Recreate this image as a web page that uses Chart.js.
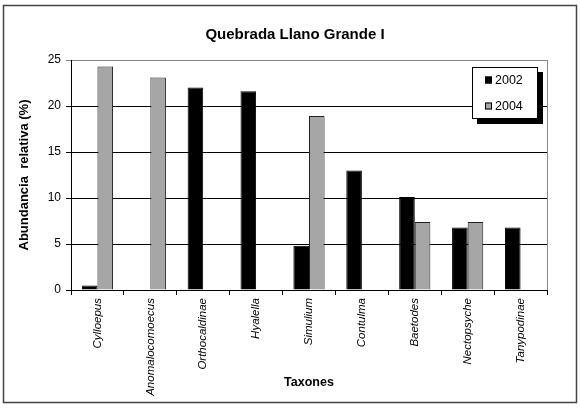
<!DOCTYPE html>
<html>
<head>
<meta charset="utf-8">
<script src="https://cdn.jsdelivr.net/npm/chart.js@4/dist/chart.umd.min.js"></script>
<style>
html,body{margin:0;padding:0;background:#fff;}
#wrap{width:580px;height:409px;position:relative;}
</style>
</head>
<body>
<div id="wrap"><canvas id="c" width="580" height="409"></canvas></div>
<script>
const chartTitle = "Quebrada Llano Grande I";
const yAxisTitle = "Abundancia  relativa (%)";
const xAxisTitle = "Taxones";
const categories = ["Cylloepus","Anomalocomoecus","Orthocaldinae","Hyalella","Simulium","Contulma","Baetodes","Nectopsyche","Tanypodinae"];
const seriesNames = ["2002","2004"];
const values2002 = [0.5, null, 22.0, 21.6, 4.8, 13.0, 10.1, 6.8, 6.8];
const values2004 = [24.3, 23.1, null, null, 18.9, null, 7.4, 7.4, null];
const yTicks = [0,5,10,15,20,25];

const FONT = "'Liberation Sans', Arial, sans-serif";

const framePlugin = {
  id: 'frame',
  afterLayout(chart){
    const t = chart.titleBlock;
    if (t) { t.left = chart.chartArea.left - 28; }
  },
  beforeDraw(chart){
    const ctx = chart.ctx;
    ctx.save();
    ctx.fillStyle = '#fff';
    ctx.fillRect(0,0,chart.width,chart.height);
    ctx.strokeStyle = '#444';
    ctx.lineWidth = 1.5;
    ctx.strokeRect(3.5,5.5,chart.width-7,chart.height-12);
    ctx.restore();
  },
  afterDatasetsDraw(chart){
    const ctx = chart.ctx, a = chart.chartArea;
    ctx.save();
    ctx.strokeStyle = '#888';
    ctx.lineWidth = 1;
    ctx.beginPath();
    ctx.moveTo(a.right+0.5, a.top);
    ctx.lineTo(a.right+0.5, a.bottom);
    ctx.stroke();
    ctx.restore();
  }
};

const legendPlugin = {
  id: 'boxLegend',
  afterDraw(chart){
    const ctx = chart.ctx, a = chart.chartArea;
    const w = 66, h = 52;
    const x = a.right - 9 - w, y = a.top + 7;
    ctx.save();
    ctx.fillStyle = '#000';
    ctx.fillRect(x+5, y+5, w, h);
    ctx.fillStyle = '#fff';
    ctx.fillRect(x, y, w, h);
    ctx.strokeStyle = '#000';
    ctx.lineWidth = 1;
    ctx.strokeRect(x+0.5, y+0.5, w-1, h-1);
    ctx.font = "12.5px " + FONT;
    ctx.textBaseline = 'middle';
    chart.data.datasets.forEach((ds, i) => {
      const cy = y + 13 + i*26;
      ctx.fillStyle = ds.backgroundColor;
      ctx.fillRect(x+13, cy-3.5, 7, 7);
      ctx.strokeStyle = '#000';
      ctx.strokeRect(x+13.5, cy-3, 6, 6);
      ctx.fillStyle = '#000';
      ctx.fillText(ds.label, x+23, cy+0.5);
    });
    ctx.restore();
  }
};

new Chart(document.getElementById('c'), {
  type: 'bar',
  data: {
    labels: categories,
    datasets: [
      {label: seriesNames[0], data: values2002, backgroundColor: '#000000', borderColor: '#000000', borderWidth: 1},
      {label: seriesNames[1], data: values2004, backgroundColor: '#a6a6a6', borderColor: '#222222', borderWidth: 1}
    ]
  },
  options: {
    responsive: false,
    animation: false,
    devicePixelRatio: 1,
    layout: {padding: {left: 0, right: 33, top: 0, bottom: 0}},
    datasets: {bar: {categoryPercentage: 0.59, barPercentage: 1.0}},
    plugins: {
      legend: {display: false},
      tooltip: {enabled: false},
      title: {display: true, text: chartTitle, color: '#000', font: {family: FONT, size: 15, weight: 'bold'}, padding: {top: 26, bottom: 16}}
    },
    scales: {
      x: {
        grid: {display: true, drawOnChartArea: false, drawTicks: true, tickLength: 5, color: '#000', offset: true},
        border: {display: true, color: '#000', width: 1},
        ticks: {autoSkip: false, minRotation: 90, maxRotation: 90, color: '#000', padding: 3, font: {family: FONT, size: 11.5, style: 'italic'}},
        title: {display: true, text: xAxisTitle, color: '#000', font: {family: FONT, size: 12.5, weight: 'bold'}, padding: {top: 0, bottom: 19}},
        afterFit(scale){ scale.height = 119; }
      },
      y: {
        min: 0, max: 25,
        afterBuildTicks(scale){ scale.ticks = yTicks.map(v => ({value: v})); },
        grid: {color: ctx => (ctx.tick && ctx.tick.value === 25) ? '#888' : '#000', lineWidth: 1, drawTicks: true, tickLength: 5},
        border: {display: true, color: '#000', width: 1},
        ticks: {color: '#000', padding: 5, font: {family: FONT, size: 12}},
        title: {display: true, text: yAxisTitle, color: '#000', font: {family: FONT, size: 13, weight: 'bold'}, padding: {top: 17, bottom: 0}},
        afterFit(scale){ scale.width = 71; }
      }
    }
  },
  plugins: [framePlugin, legendPlugin]
});
</script>
</body>
</html>
